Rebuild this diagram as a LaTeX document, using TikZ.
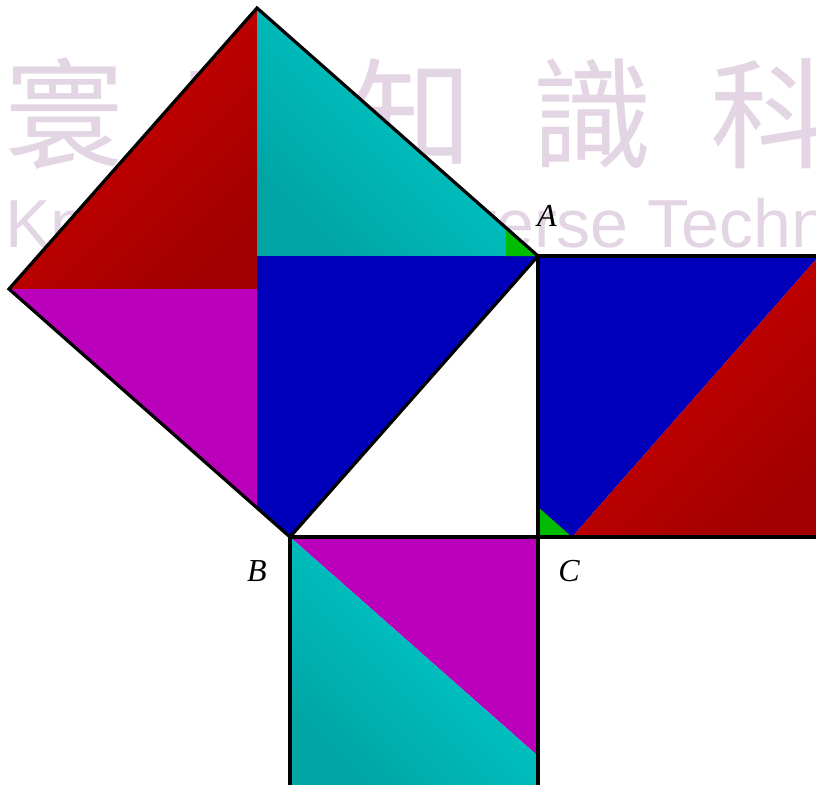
\documentclass[tikz,border=0pt]{standalone}
\usepackage{fontspec}
\setmainfont{Liberation Serif}
\newfontfamily\cjkwm{Noto Sans CJK TC}
\newfontfamily\wmsans{Liberation Sans}
\definecolor{wmcol}{RGB}{227,213,228}
\definecolor{redA}{RGB}{210,0,0}
\definecolor{redB}{RGB}{162,0,0}
\definecolor{cyA}{RGB}{0,208,208}
\definecolor{cyB}{RGB}{0,165,165}
\definecolor{blu}{RGB}{0,0,187}
\definecolor{mag}{RGB}{187,0,187}
\definecolor{grn}{RGB}{0,187,0}
\tikzset{
  wmcjk/.style={text=wmcol, inner sep=0pt, font=\cjkwm\fontsize{120}{120}\selectfont},
  wmlat/.style={text=wmcol, inner sep=0pt, anchor=base west, font=\wmsans\fontsize{68}{68}\selectfont},
  redshade/.style={top color=redA, bottom color=redB, shading angle=45},
  cyanshade/.style={top color=cyA, bottom color=cyB, shading angle=-45},
  edge/.style={draw=black, line width=3.2pt, line join=miter},
  lab/.style={inner sep=0pt, font=\fontsize{32}{32}\selectfont\itshape}
}
\begin{document}
\begin{tikzpicture}[x=1pt,y=-1pt]
\useasboundingbox (0,0) rectangle (816,784);
% watermark
\node[wmcjk] (w1) at (65,114) {寰};
\node[wmcjk] (w2) at (242,114) {宇};
\node[wmcjk] (w3) at (412,114) {知};
\node[wmcjk] (w4) at (592,114) {識};
\node[wmcjk] (w5) at (770,114) {科};
\node[wmcjk] (w6) at (948,114) {技};
\node[wmlat] (w7) at (5,247) {Knowledge Universe Technology};
% points
\coordinate (A) at (538,256);
\coordinate (B) at (290,537);
\coordinate (C) at (538,537);
\coordinate (D) at (9,289);
\coordinate (E) at (257,8);
\coordinate (P) at (257,289);
\coordinate (Q) at (257,256);
\coordinate (R) at (257,508);
\coordinate (G) at (819,256);
\coordinate (F) at (819,537);
\coordinate (S) at (572,537);
\coordinate (H) at (538,790);
\coordinate (I) at (290,790);
\coordinate (M) at (538,756);
\coordinate (g1) at (506,228);
\coordinate (g2) at (506,256);
\coordinate (g3) at (538,507);
% square on AB
\shade[redshade] (D) -- (E) -- (P) -- cycle;
\shade[cyanshade] (E) -- (Q) -- (A) -- cycle;
\fill[mag] (D) -- (P) -- (R) -- cycle;
\fill[blu] (Q) -- (A) -- (B) -- (R) -- cycle;
\fill[grn] (g1) -- (g2) -- (A) -- cycle;
% square on AC
\fill[blu] (A) -- (G) -- (S) -- (C) -- cycle;
\shade[redshade] (S) -- (F) -- (G) -- cycle;
\fill[grn] (g3) -- (C) -- (S) -- cycle;
% square on BC
\fill[mag] (B) -- (C) -- (M) -- cycle;
\shade[cyanshade] (B) -- (M) -- (H) -- (I) -- cycle;
% outlines
\draw[edge] (D) -- (E) -- (A) -- (B) -- cycle;
\draw[edge] (A) -- (G);
\draw[edge] (C) -- (F);
\draw[edge] (A) -- (C);
\draw[edge] (B) -- (C);
\draw[edge] (B) -- (I);
\draw[edge] (C) -- (H);
% labels
\node[lab] (la) at (547,216) {A};
\node[lab] (lb) at (257,571) {B};
\node[lab] (lc) at (569,571) {C};
\end{tikzpicture}
\end{document}
